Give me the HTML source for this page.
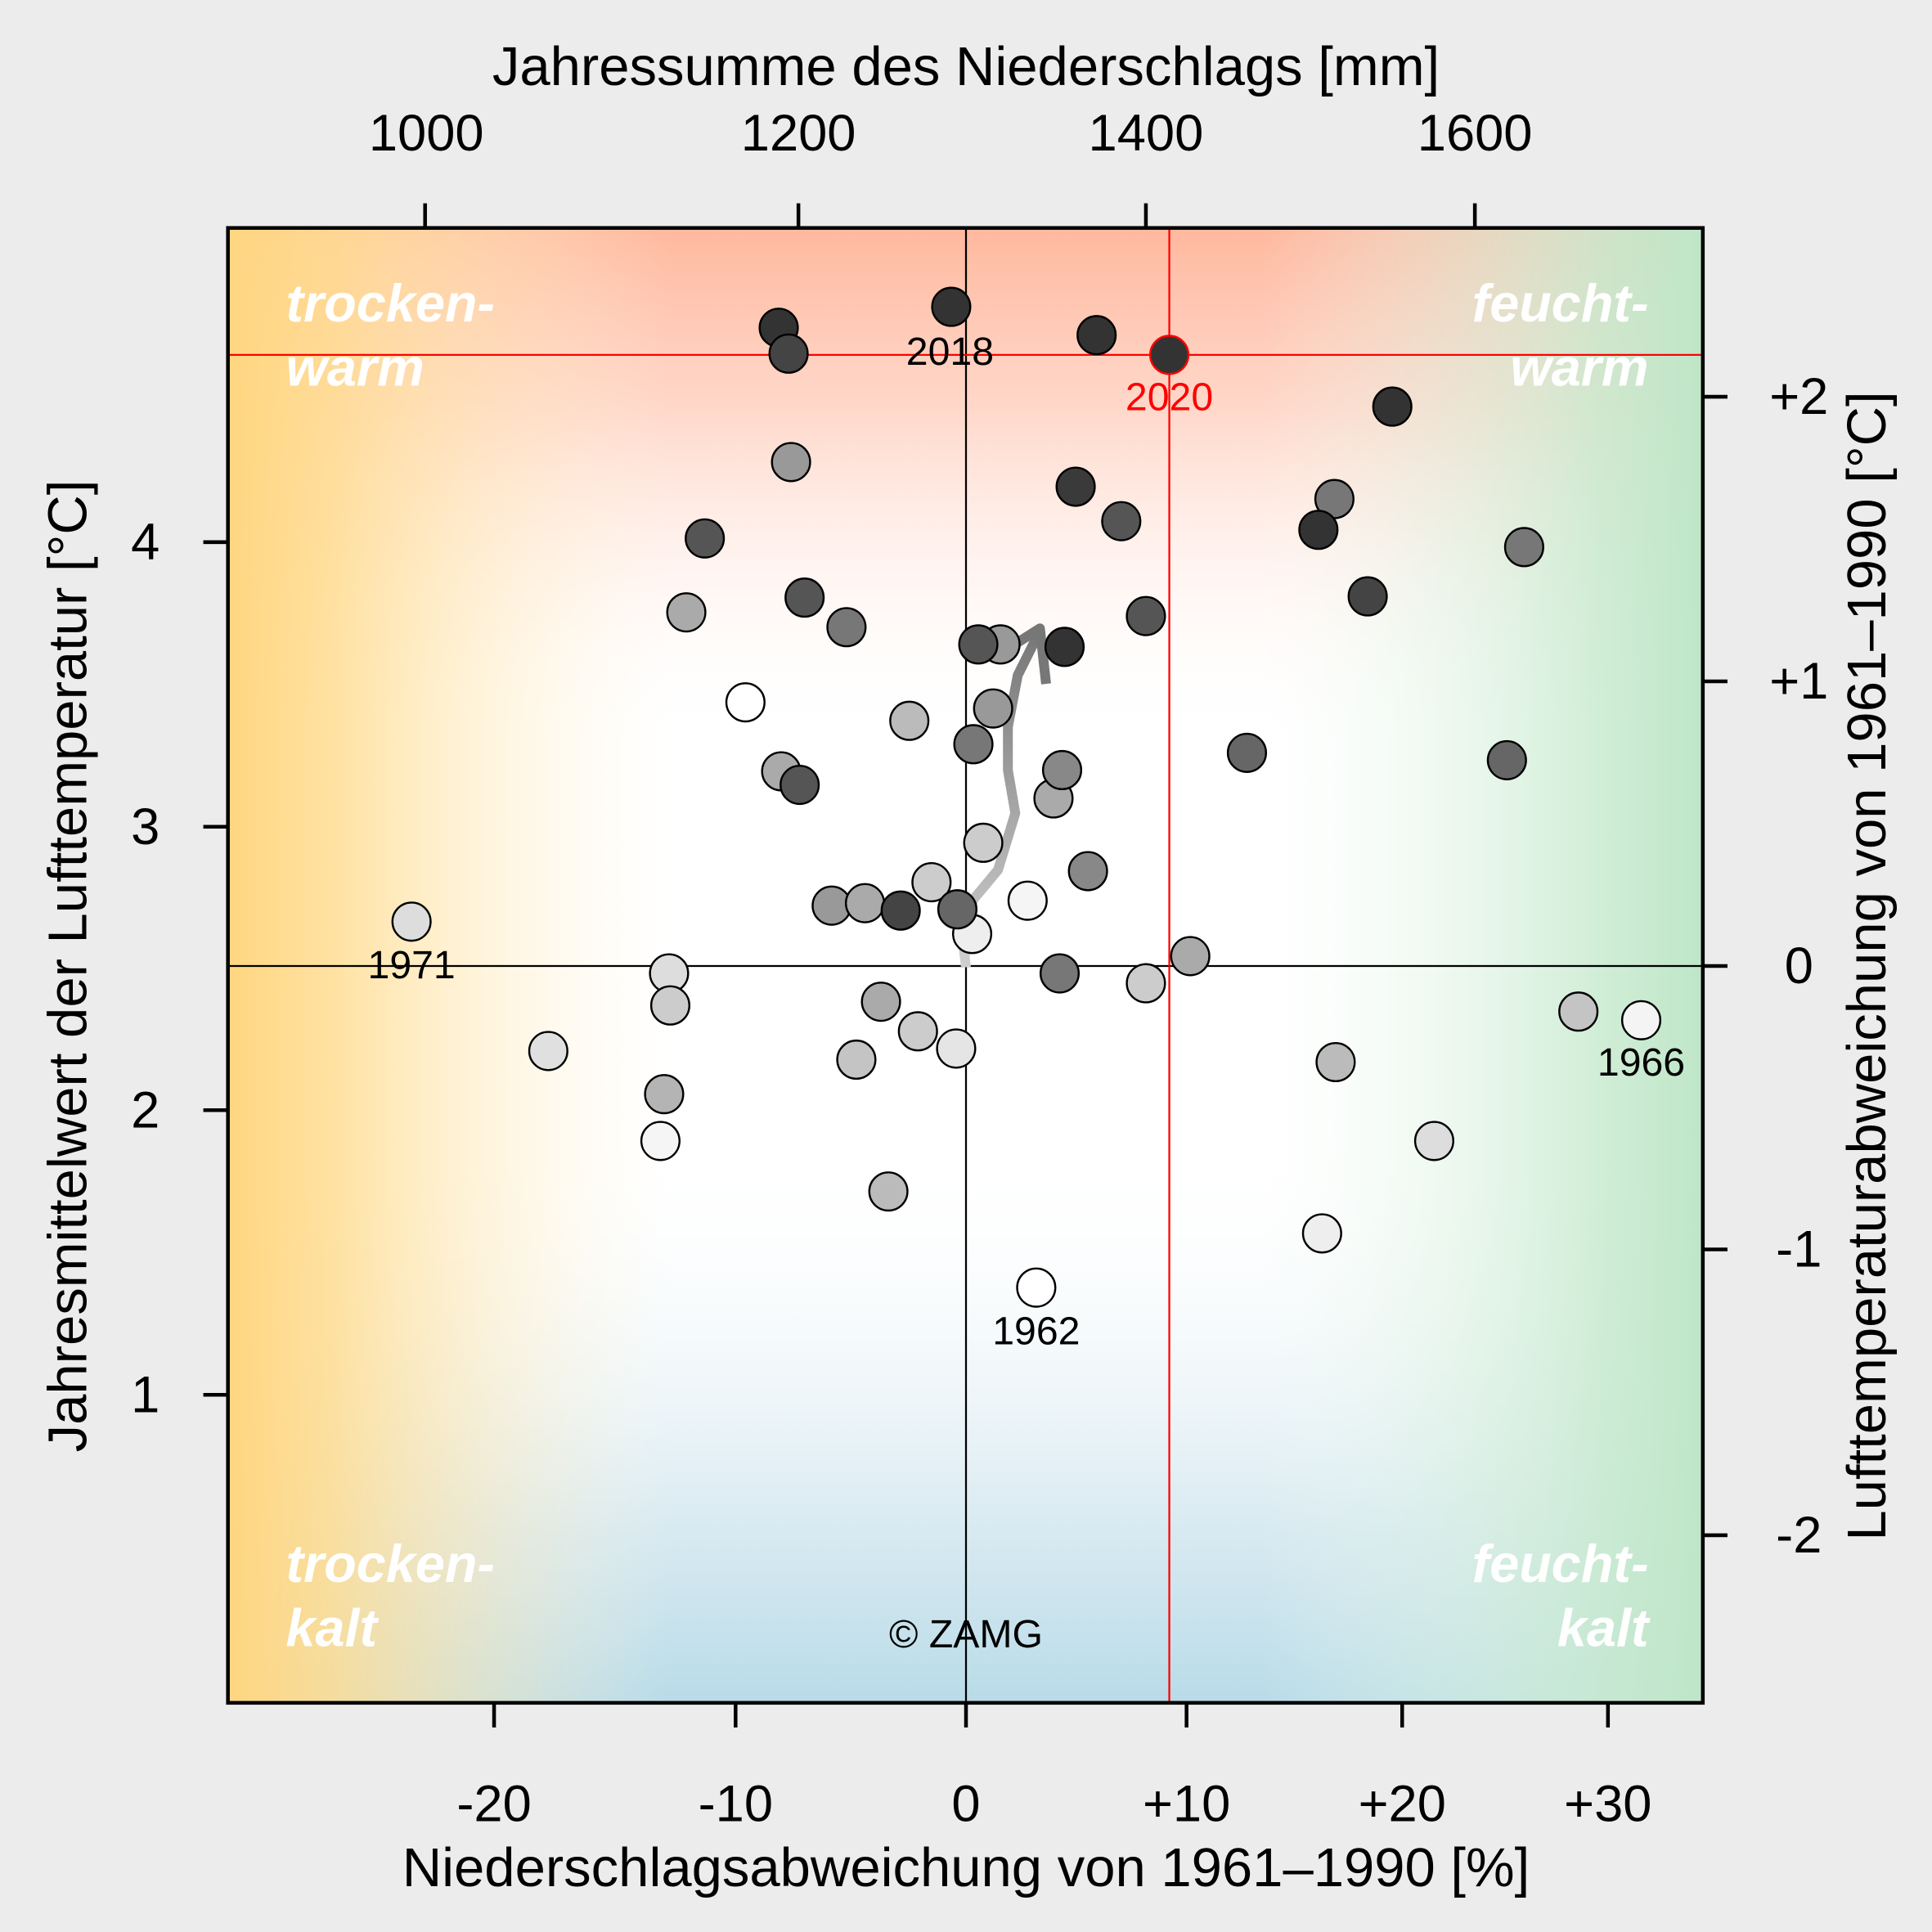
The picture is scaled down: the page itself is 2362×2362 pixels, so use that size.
<!DOCTYPE html>
<html><head><meta charset="utf-8"><style>
html,body{margin:0;padding:0;background:#ececec}
svg{display:block}
text{font-family:"Liberation Sans",Arial,sans-serif}
</style></head><body>
<svg width="2362" height="2362" viewBox="0 0 1568 1568" xmlns="http://www.w3.org/2000/svg">
<defs>
<linearGradient id="gt" x1="0" y1="0" x2="0" y2="1">
<stop offset="0" stop-color="#ffb89e" stop-opacity="1"/>
<stop offset="0.12" stop-color="#ffcdbb" stop-opacity="0.8"/>
<stop offset="0.35" stop-color="#ffffff" stop-opacity="0"/>
</linearGradient>
<linearGradient id="gb" x1="0" y1="1" x2="0" y2="0">
<stop offset="0" stop-color="#b8dbe8" stop-opacity="1"/>
<stop offset="0.12" stop-color="#cfe5ee" stop-opacity="0.8"/>
<stop offset="0.38" stop-color="#ffffff" stop-opacity="0"/>
</linearGradient>
<linearGradient id="gl" x1="0" y1="0" x2="1" y2="0">
<stop offset="0" stop-color="#ffd680" stop-opacity="1"/>
<stop offset="0.07" stop-color="#ffdc90" stop-opacity="0.85"/>
<stop offset="0.3" stop-color="#fff6e0" stop-opacity="0"/>
</linearGradient>
<linearGradient id="gr" x1="1" y1="0" x2="0" y2="0">
<stop offset="0" stop-color="#bfe6c8" stop-opacity="1"/>
<stop offset="0.07" stop-color="#c8eacf" stop-opacity="0.85"/>
<stop offset="0.3" stop-color="#f0faf2" stop-opacity="0"/>
</linearGradient>
<linearGradient id="ga" x1="0" y1="1" x2="0" y2="0">
<stop offset="0" stop-color="#cfcfcf"/>
<stop offset="1" stop-color="#777"/>
</linearGradient>
</defs>
<rect x="185" y="185" width="1197" height="1197" fill="#fff"/>
<rect x="185" y="185" width="1197" height="1197" fill="url(#gt)"/>
<rect x="185" y="185" width="1197" height="1197" fill="url(#gb)"/>
<rect x="185" y="185" width="1197" height="1197" fill="url(#gl)"/>
<rect x="185" y="185" width="1197" height="1197" fill="url(#gr)"/>
<g fill="#fff" font-weight="bold" font-style="italic" font-size="43">
<text x="232" y="261">trocken-</text><text x="232" y="313">warm</text>
<text x="1338" y="261" text-anchor="end">feucht-</text><text x="1338" y="313" text-anchor="end">warm</text>
<text x="232" y="1284">trocken-</text><text x="232" y="1336">kalt</text>
<text x="1338" y="1284" text-anchor="end">feucht-</text><text x="1338" y="1336" text-anchor="end">kalt</text>
</g>
<line x1="784" y1="185" x2="784" y2="1382" stroke="#000" stroke-width="1.5"/>
<line x1="185" y1="784" x2="1382" y2="784" stroke="#000" stroke-width="1.5"/>
<line x1="949" y1="185" x2="949" y2="1382" stroke="#f00" stroke-width="1.5"/>
<line x1="185" y1="288" x2="1382" y2="288" stroke="#f00" stroke-width="1.5"/>
<path d="M784,785 L781,760 L790,730 L810,706 L824,660 L818,625 L818,590 L826,548 L844,512" fill="none" stroke="url(#ga)" stroke-width="8" stroke-linejoin="round"/>
<path d="M814,529 L844,510 L849,555" fill="none" stroke="#777" stroke-width="8" stroke-linejoin="round"/>
<g stroke="#000" stroke-width="1.6">
<circle cx="632" cy="266" r="15.5" fill="#333"/>
<circle cx="640" cy="287" r="15.5" fill="#444"/>
<circle cx="772" cy="249" r="15.5" fill="#333"/>
<circle cx="890" cy="272" r="15.5" fill="#333"/>
<circle cx="1130" cy="330" r="15.5" fill="#333"/>
<circle cx="642" cy="375" r="15.5" fill="#999"/>
<circle cx="873" cy="395" r="15.5" fill="#3a3a3a"/>
<circle cx="910" cy="423" r="15.5" fill="#555"/>
<circle cx="572" cy="437" r="15.5" fill="#555"/>
<circle cx="1083" cy="405" r="15.5" fill="#777"/>
<circle cx="1070" cy="430" r="15.5" fill="#333"/>
<circle cx="1237" cy="444" r="15.5" fill="#777"/>
<circle cx="557" cy="497" r="15.5" fill="#aaa"/>
<circle cx="653" cy="485" r="15.5" fill="#555"/>
<circle cx="687" cy="509" r="15.5" fill="#777"/>
<circle cx="1110" cy="484" r="15.5" fill="#444"/>
<circle cx="930" cy="500" r="15.5" fill="#555"/>
<circle cx="812" cy="523" r="15.5" fill="#999"/>
<circle cx="794" cy="523" r="15.5" fill="#555"/>
<circle cx="864" cy="525" r="15.5" fill="#333"/>
<circle cx="605" cy="570" r="15.5" fill="#fff"/>
<circle cx="738" cy="585" r="15.5" fill="#bbb"/>
<circle cx="806" cy="575" r="15.5" fill="#999"/>
<circle cx="790" cy="604" r="15.5" fill="#777"/>
<circle cx="634" cy="626" r="15.5" fill="#aaa"/>
<circle cx="649" cy="637" r="15.5" fill="#555"/>
<circle cx="855" cy="648" r="15.5" fill="#aaa"/>
<circle cx="862" cy="625" r="15.5" fill="#888"/>
<circle cx="1012" cy="611" r="15.5" fill="#666"/>
<circle cx="1223" cy="617" r="15.5" fill="#666"/>
<circle cx="798" cy="684" r="15.5" fill="#ccc"/>
<circle cx="883" cy="707" r="15.5" fill="#888"/>
<circle cx="675" cy="735" r="15.5" fill="#999"/>
<circle cx="702" cy="733" r="15.5" fill="#aaa"/>
<circle cx="756" cy="716" r="15.5" fill="#ccc"/>
<circle cx="731" cy="739" r="15.5" fill="#444"/>
<circle cx="834" cy="731" r="15.5" fill="#f5f5f5"/>
<circle cx="789" cy="758" r="15.5" fill="#eee"/>
<circle cx="777" cy="738" r="15.5" fill="#666"/>
<circle cx="334" cy="748" r="15.5" fill="#ddd"/>
<circle cx="543" cy="790" r="15.5" fill="#ddd"/>
<circle cx="544" cy="816" r="15.5" fill="#ccc"/>
<circle cx="966" cy="776" r="15.5" fill="#aaa"/>
<circle cx="860" cy="790" r="15.5" fill="#777"/>
<circle cx="930" cy="798" r="15.5" fill="#ccc"/>
<circle cx="715" cy="813" r="15.5" fill="#aaa"/>
<circle cx="745" cy="837" r="15.5" fill="#ccc"/>
<circle cx="776" cy="851" r="15.5" fill="#e5e5e5"/>
<circle cx="695" cy="860" r="15.5" fill="#c4c4c4"/>
<circle cx="445" cy="853" r="15.5" fill="#e0e0e0"/>
<circle cx="1281" cy="821" r="15.5" fill="#c4c4c4"/>
<circle cx="1332" cy="828" r="15.5" fill="#f4f4f4"/>
<circle cx="1084" cy="862" r="15.5" fill="#bbb"/>
<circle cx="539" cy="888" r="15.5" fill="#b4b4b4"/>
<circle cx="536" cy="926" r="15.5" fill="#f5f5f5"/>
<circle cx="1164" cy="926" r="15.5" fill="#ddd"/>
<circle cx="721" cy="967" r="15.5" fill="#bbb"/>
<circle cx="1073" cy="1001" r="15.5" fill="#eee"/>
<circle cx="841" cy="1045" r="15.5" fill="#fff"/>
<circle cx="949" cy="288" r="15.5" fill="#333" stroke="#f00"/>
</g>
<g font-size="32" text-anchor="middle">
<text x="771" y="296">2018</text>
<text x="949" y="333" fill="#f00">2020</text>
<text x="334" y="794">1971</text>
<text x="1332" y="873">1966</text>
<text x="841" y="1091">1962</text>
<text x="784" y="1337">© ZAMG</text>
</g>
<rect x="185" y="185" width="1197" height="1197" fill="none" stroke="#000" stroke-width="3"/>
<g stroke="#000" stroke-width="3">
<line x1="345" y1="165" x2="345" y2="185"/><line x1="648" y1="165" x2="648" y2="185"/><line x1="930" y1="165" x2="930" y2="185"/><line x1="1197" y1="165" x2="1197" y2="185"/>
<line x1="401" y1="1382" x2="401" y2="1402"/><line x1="597" y1="1382" x2="597" y2="1402"/><line x1="784" y1="1382" x2="784" y2="1402"/><line x1="963" y1="1382" x2="963" y2="1402"/><line x1="1138" y1="1382" x2="1138" y2="1402"/><line x1="1305" y1="1382" x2="1305" y2="1402"/>
<line x1="165" y1="440" x2="185" y2="440"/><line x1="165" y1="671" x2="185" y2="671"/><line x1="165" y1="901" x2="185" y2="901"/><line x1="165" y1="1132" x2="185" y2="1132"/>
<line x1="1382" y1="322" x2="1402" y2="322"/><line x1="1382" y1="553" x2="1402" y2="553"/><line x1="1382" y1="784" x2="1402" y2="784"/><line x1="1382" y1="1014" x2="1402" y2="1014"/><line x1="1382" y1="1246" x2="1402" y2="1246"/>
</g>
<g font-size="42" text-anchor="middle">
<text x="346" y="122">1000</text><text x="648" y="122">1200</text><text x="930" y="122">1400</text><text x="1197" y="122">1600</text>
<text x="784" y="69" font-size="44.5">Jahressumme des Niederschlags [mm]</text>
<text x="401" y="1478">-20</text><text x="597" y="1478">-10</text><text x="784" y="1478">0</text><text x="963" y="1478">+10</text><text x="1138" y="1478">+20</text><text x="1305" y="1478">+30</text>
<text x="784" y="1531" font-size="44.5">Niederschlagsabweichung von 1961–1990 [%]</text>
<text x="118" y="454">4</text><text x="118" y="685">3</text><text x="118" y="915">2</text><text x="118" y="1146">1</text>
<text x="1460" y="336">+2</text><text x="1460" y="567">+1</text><text x="1460" y="798">0</text><text x="1460" y="1028">-1</text><text x="1460" y="1260">-2</text>
<text transform="translate(70,784) rotate(-90)" font-size="44.5">Jahresmittelwert der Lufttemperatur [°C]</text>
<text transform="translate(1530,784) rotate(-90)" font-size="44.5">Lufttemperaturabweichung von 1961–1990 [°C]</text>
</g>
</svg>
</body></html>
